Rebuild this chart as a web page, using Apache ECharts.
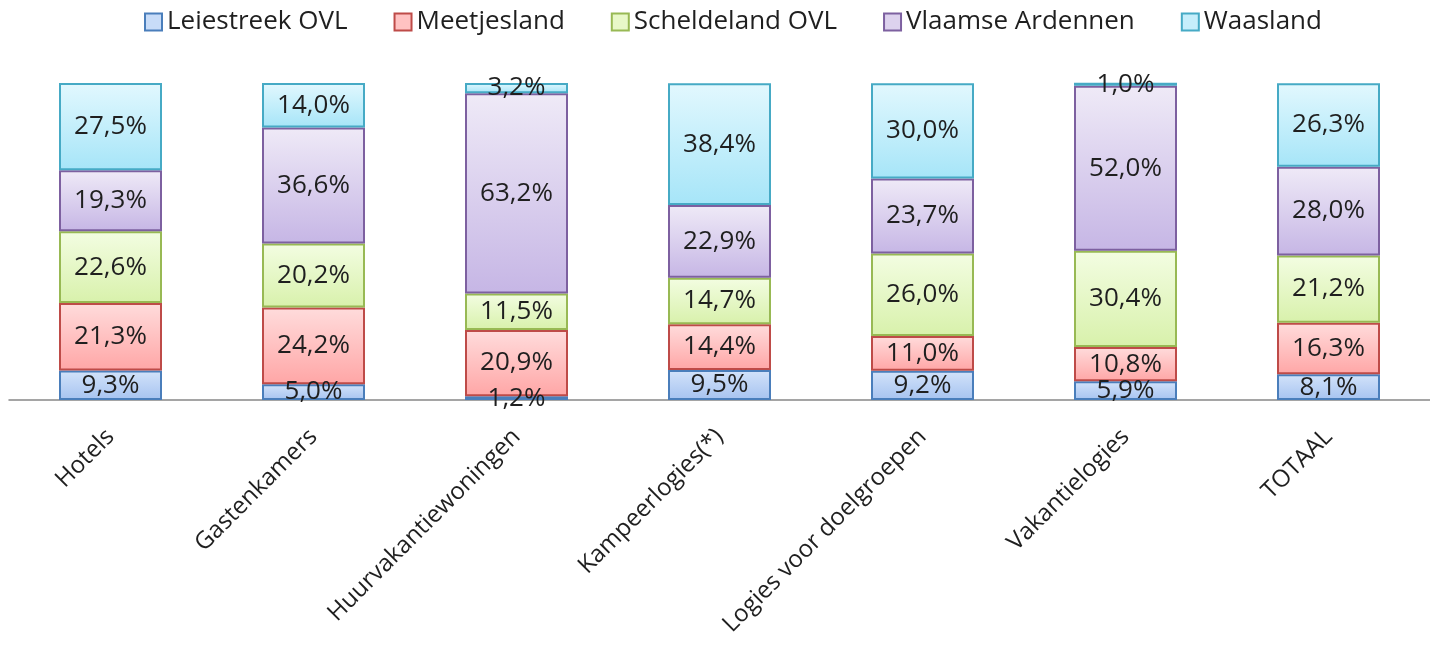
<!DOCTYPE html>
<html>
<head>
<meta charset="utf-8">
<script src="https://cdn.jsdelivr.net/npm/echarts@6/dist/echarts.min.js"></script>
<style>
  html, body { margin: 0; padding: 0; background: #fff; }
  #chart { width: 1430px; height: 651px; }
</style>
</head>
<body>
<div id="chart"></div>
<script>
// categorieën (x-as)
var categories = ["Hotels", "Gastenkamers", "Huurvakantiewoningen", "Kampeerlogies(*)", "Logies voor doelgroepen", "Vakantielogies", "TOTAAL"];

// aandeel per regio, in %
var leiestreek = [9.3, 5.0, 1.2, 9.5, 9.2, 5.9, 8.1];
var meetjesland = [21.3, 24.2, 20.9, 14.4, 11.0, 10.8, 16.3];
var scheldeland = [22.6, 20.2, 11.5, 14.7, 26.0, 30.4, 21.2];
var vlaamseArdennen = [19.3, 36.6, 63.2, 22.9, 23.7, 52.0, 28.0];
var waasland = [27.5, 14.0, 3.2, 38.4, 30.0, 1.0, 26.3];

var seriesNames = ["Leiestreek OVL", "Meetjesland", "Scheldeland OVL", "Vlaamse Ardennen", "Waasland"];

var chart = echarts.init(document.getElementById("chart"));

function grad(top, bottom) {
  return new echarts.graphic.LinearGradient(0, 0, 0, 1, [
    { offset: 0, color: top },
    { offset: 1, color: bottom }
  ]);
}

function makeSeries(name, data, border, top, bottom) {
  return {
    name: name,
    type: "bar",
    stack: "totaal",
    barWidth: 103,
    data: data,
    itemStyle: {
      color: grad(top, bottom),
      borderColor: border,
      borderWidth: 2
    },
    label: {
      show: true,
      position: "inside",
      fontFamily: "Open Sans",
      fontSize: 26,
      color: "#1f1f1f",
      formatter: function (p) {
        return p.value.toFixed(1).replace(".", ",") + "%";
      }
    }
  };
}

// legenda-kleuren: rand, vulling
var legendColors = [
  ["#4a7ebb", "#c8dcf8"],
  ["#be4b48", "#ffc2c2"],
  ["#98b954", "#e8f8c8"],
  ["#7d60a0", "#ddd2ee"],
  ["#46aac5", "#c6eefb"]
];

var option = {
  animation: false,
  textStyle: { fontFamily: "Open Sans" },
  legend: {
    top: 4,
    left: 139,
    itemWidth: 17,
    itemHeight: 17,
    itemGap: 46,
    textStyle: { fontSize: 26, color: "#1f1f1f" },
    data: seriesNames.map(function (n, i) {
      return {
        name: n,
        icon: "rect",
        itemStyle: { color: legendColors[i][1], borderColor: legendColors[i][0], borderWidth: 2 }
      };
    })
  },
  grid: {
    left: 9,
    right: -10,
    top: 83,
    bottom: 251,
    containLabel: false
  },
  xAxis: {
    type: "category",
    data: categories,
    axisLine: { lineStyle: { color: "#888888", width: 1.5 } },
    axisTick: { show: false },
    axisLabel: {
      rotate: 45,
      margin: 33,
      fontSize: 24,
      color: "#1f1f1f",
      fontFamily: "Open Sans",
      interval: 0
    }
  },
  yAxis: {
    type: "value",
    min: 0,
    max: 100,
    show: false
  },
  series: [
    makeSeries(seriesNames[0], leiestreek, "#4a7ebb", "#d3e3fa", "#a6c3f0"),
    makeSeries(seriesNames[1], meetjesland, "#be4b48", "#ffdcdc", "#ffa6a6"),
    makeSeries(seriesNames[2], scheldeland, "#98b954", "#f3fde2", "#d8f1ab"),
    makeSeries(seriesNames[3], vlaamseArdennen, "#7d60a0", "#efeaf7", "#c6b6e5"),
    makeSeries(seriesNames[4], waasland, "#46aac5", "#e2f8fe", "#a6e5f8")
  ]
};

option && chart.setOption(option);
</script>
</body>
</html>
